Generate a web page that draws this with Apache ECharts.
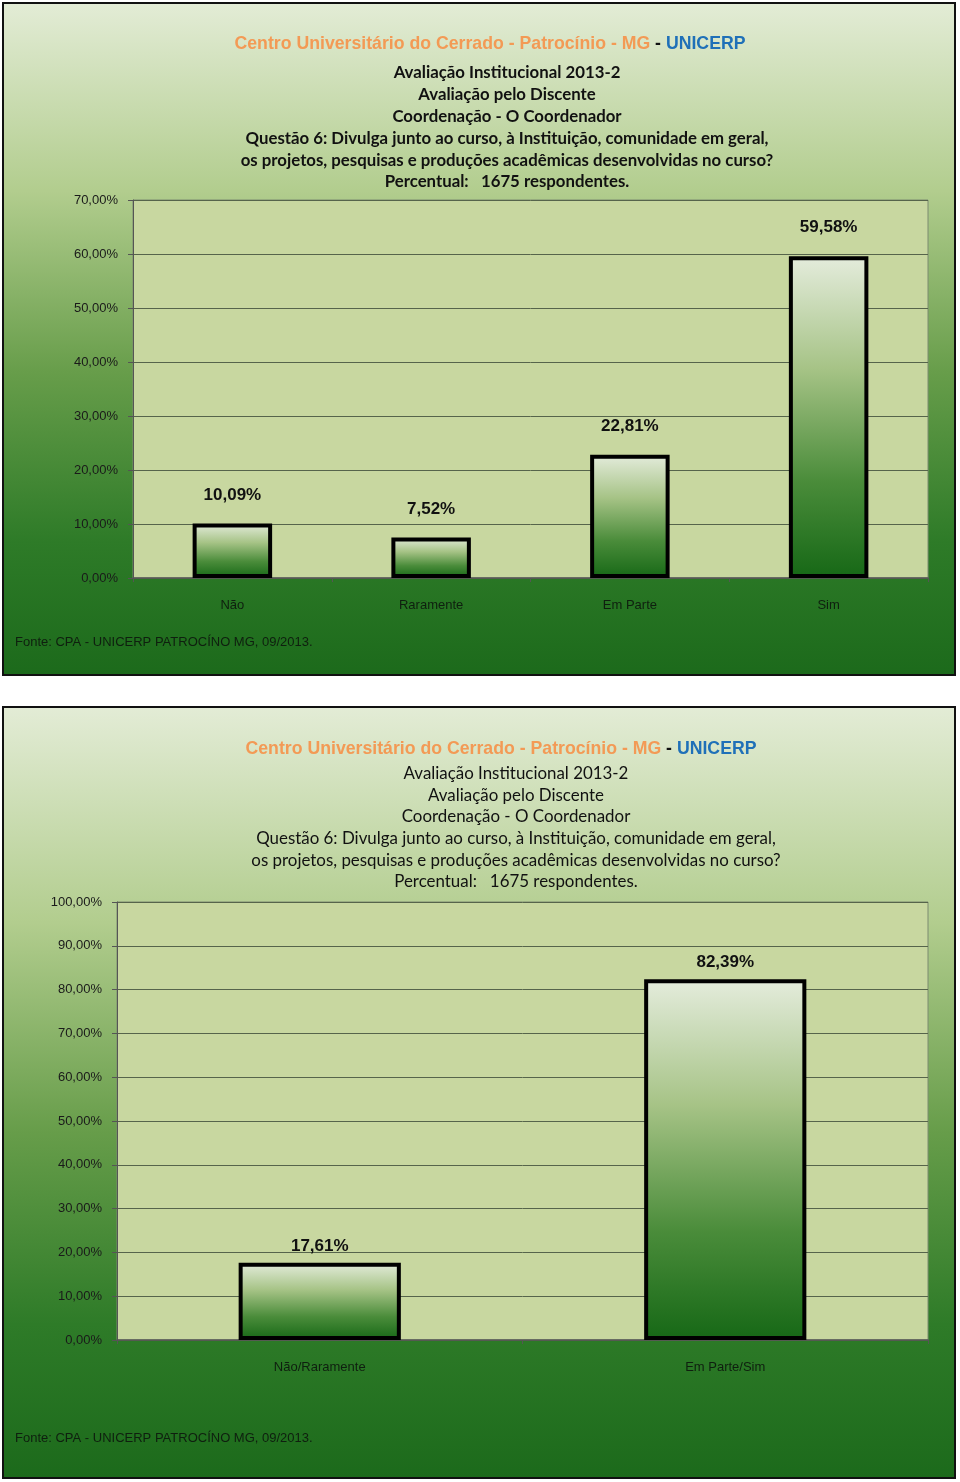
<!DOCTYPE html>
<html>
<head>
<meta charset="utf-8">
<script src="https://cdn.jsdelivr.net/npm/echarts@6/dist/echarts.min.js"></script>
<style>
html,body{margin:0;padding:0;background:#fff;}
#c{width:960px;height:1482px;}
</style>
</head>
<body>
<div id="c"></div>
<script>
// ---- data ----
const categories1 = ['Não', 'Raramente', 'Em Parte', 'Sim'];
const values1 = [10.09, 7.52, 22.81, 59.58];
const categories2 = ['Não/Raramente', 'Em Parte/Sim'];
const values2 = [17.61, 82.39];
const yTicks1 = { min: 0, max: 70, interval: 10 };
const yTicks2 = { min: 0, max: 100, interval: 10 };
const titleMain = 'Centro Universitário do Cerrado - Patrocínio - MG';
const titleBrand = 'UNICERP';
const subtitleLines = [
  'Avaliação Institucional 2013-2',
  'Avaliação pelo Discente',
  'Coordenação - O Coordenador',
  'Questão 6: Divulga junto ao curso, à Instituição, comunidade em geral,',
  'os projetos, pesquisas e produções acadêmicas desenvolvidas no curso?',
  'Percentual:   1675 respondentes.'
];
const sourceText = 'Fonte: CPA - UNICERP PATROCÍNO MG, 09/2013.';

// ---- chart ----
const chart = echarts.init(document.getElementById('c'), null, { renderer: 'canvas' });
const fmtPct = v => Number(v).toFixed(2).replace('.', ',') + '%';

const panelGrad = () => new echarts.graphic.LinearGradient(0, 0, 0, 1, [
  { offset: 0, color: '#e3ecd6' },
  { offset: 0.28, color: '#b2cd8e' },
  { offset: 0.55, color: '#679d4a' },
  { offset: 0.8, color: '#2e7b28' },
  { offset: 1, color: '#1c6a1b' }
]);
const barGrad = new echarts.graphic.LinearGradient(0, 0, 0, 1, [
  { offset: 0, color: '#e4ecdc' },
  { offset: 0.35, color: '#a6c386' },
  { offset: 0.7, color: '#4a8c3a' },
  { offset: 1, color: '#166816' }
]);

const richTitle = {
  o: { color: '#f39a55', fontFamily: 'Liberation Sans, Arial', fontSize: 17.7 },
  k: { color: '#111', fontFamily: 'Liberation Sans, Arial', fontSize: 17.7, fontWeight: 'bold' },
  b: { color: '#1f70b8', fontFamily: 'Liberation Sans, Arial', fontSize: 17.7, fontWeight: 'bold' }
};
const titleText = '{o|' + titleMain + '}{k| - }{b|' + titleBrand + '}';

function yAxis(idx, t) {
  return {
    type: 'value', gridIndex: idx, min: t.min, max: t.max, interval: t.interval,
    axisLine: { show: true, lineStyle: { color: '#555', width: 1 } },
    axisTick: { show: true, length: 5, lineStyle: { color: '#555' } },
    axisLabel: { formatter: fmtPct, color: '#1a1a1a', fontSize: 13, fontFamily: 'Liberation Sans, Arial', margin: 15 },
    splitLine: { show: true, lineStyle: { color: '#56644b', width: 1 } }
  };
}
function xAxis(idx, cats) {
  return {
    type: 'category', gridIndex: idx, data: cats,
    axisLine: { show: true, lineStyle: { color: '#555', width: 1.5 } },
    axisTick: { show: true, length: 4, lineStyle: { color: '#555' } },
    axisLabel: { color: '#0f1f0f', fontSize: 13, fontFamily: 'Liberation Sans, Arial', margin: 21 }
  };
}
function barSeries(idx, data, dist) {
  return {
    type: 'bar', xAxisIndex: idx, yAxisIndex: idx, data: data, barWidth: '40%',
    itemStyle: { color: barGrad, borderColor: '#000', borderWidth: 4 },
    label: { show: true, position: 'top', distance: dist, formatter: p => fmtPct(p.value),
      color: '#111', fontWeight: 'bold', fontSize: 17, fontFamily: 'Liberation Sans, Arial' },
    silent: true, animation: false
  };
}

chart.setOption({
  animation: false,
  backgroundColor: '#fff',
  graphic: [
    { type: 'rect', z: -10, shape: { x: 3, y: 3, width: 952, height: 672 },
      style: { fill: panelGrad(), stroke: '#111', lineWidth: 2 } },
    { type: 'rect', z: -10, shape: { x: 3, y: 707, width: 952, height: 771 },
      style: { fill: panelGrad(), stroke: '#111', lineWidth: 2 } },
    { type: 'text', left: 15, top: 636, style: { text: sourceText, fill: '#0f1f0f', font: '13px "Liberation Sans", Arial' } },
    { type: 'text', left: 15, top: 1432, style: { text: sourceText, fill: '#0f1f0f', font: '13px "Liberation Sans", Arial' } }
  ],
  title: [
    { text: titleText, left: 485, top: 30, textAlign: 'center', textStyle: { rich: richTitle } },
    { text: subtitleLines.join('\n'), left: 502, top: 57, textAlign: 'center',
      textStyle: { color: '#111', fontFamily: 'Lato', fontWeight: 'bold', fontSize: 16.8, lineHeight: 21.8 } },
    { text: titleText, left: 496, top: 735, textAlign: 'center', textStyle: { rich: richTitle } },
    { text: subtitleLines.join('\n'), left: 511, top: 758, textAlign: 'center',
      textStyle: { color: '#111', fontFamily: 'Lato', fontWeight: 'normal', fontSize: 16.9, lineHeight: 21.6 } }
  ],
  grid: [
    { left: 133, top: 200, width: 795, height: 378, show: true, backgroundColor: '#c8d7a0', borderColor: '#7d8a70', borderWidth: 1 },
    { left: 117, top: 902, width: 811, height: 438, show: true, backgroundColor: '#c8d7a0', borderColor: '#7d8a70', borderWidth: 1 }
  ],
  xAxis: [xAxis(0, categories1), xAxis(1, categories2)],
  yAxis: [yAxis(0, yTicks1), yAxis(1, yTicks2)],
  series: [barSeries(0, values1, 20), barSeries(1, values2, 8)]
});
</script>
</body>
</html>
